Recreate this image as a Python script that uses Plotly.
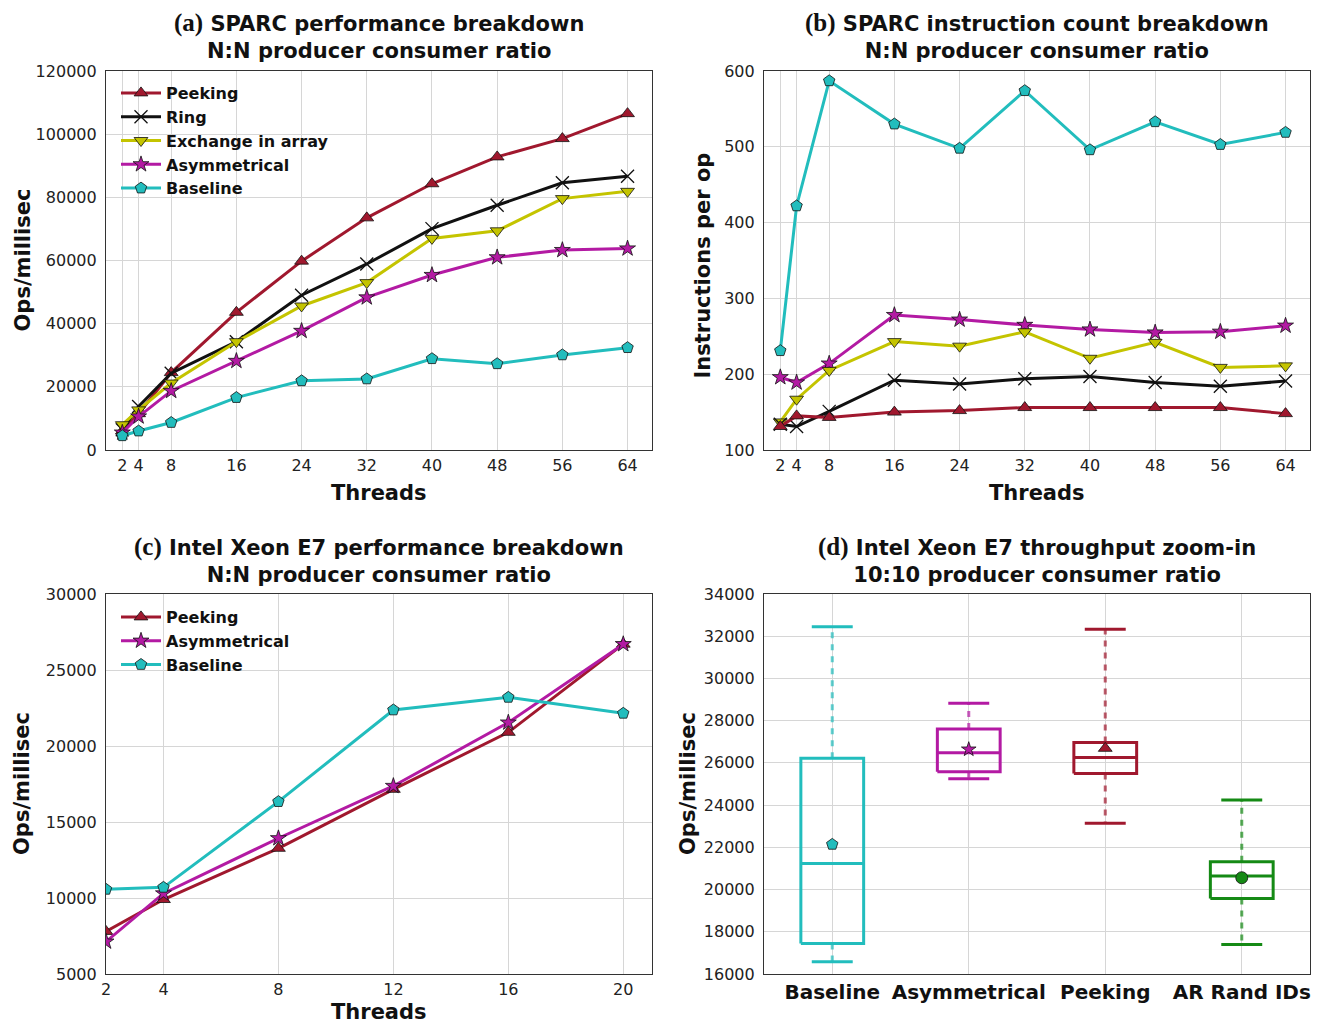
import plotly.graph_objects as go

# ---------------- data ----------------
threads_sparc = [2, 4, 8, 16, 24, 32, 40, 48, 56, 64]
perf_peeking = [6000, 11500, 24500, 43600, 59800, 73500, 84300, 92800, 98600, 106500]
perf_ring = [6400, 13800, 24300, 34300, 49000, 58900, 70100, 77500, 84600, 86700]
perf_exchange = [8000, 12700, 21200, 34300, 45600, 53000, 67000, 69400, 79600, 81900]
perf_asym = [5500, 10600, 18700, 28200, 37700, 48300, 55400, 61000, 63300, 63800]
perf_baseline = [4500, 6000, 8700, 16600, 21900, 22500, 28900, 27300, 30100, 32400]

inst_peeking = [131, 145, 143, 150, 152, 156, 156, 156, 156, 148]
inst_ring = [134, 131, 151, 192, 187, 194, 197, 189, 184, 191]
inst_exchange = [137, 167, 205, 243, 237, 256, 221, 242, 209, 211]
inst_asym = [196, 189, 214, 278, 272, 265, 259, 255, 256, 264]
inst_baseline = [231, 422, 587, 530, 498, 574, 496, 533, 503, 519]

threads_intel = [2, 4, 8, 12, 16, 20]
intel_peeking = [7800, 9900, 13270, 17150, 20900, 26700]
intel_asym = [7130, 10300, 13930, 17370, 21540, 26700]
intel_baseline = [10570, 10700, 16340, 22370, 23200, 22150]

box_names = ["Baseline", "Asymmetrical", "Peeking", "AR Rand IDs"]
box_low = [16580, 25250, 23140, 17400]
box_q1 = [17450, 25580, 25500, 19580]
box_median = [21240, 26480, 26260, 20640]
box_q3 = [26215, 27600, 26970, 21320]
box_high = [32450, 28820, 32330, 24240]
box_mean = [22140, 26640, 26690, 20560]

sparc_ticks = [2, 4, 8, 16, 24, 32, 40, 48, 56, 64]
intel_ticks = [2, 4, 8, 12, 16, 20]

# ---------------- styles ----------------
C_PEEK = "#A0182E"
C_RING = "#111111"
C_EXCH = "#C4C400"
C_ASYM = "#B31AA3"
C_BASE = "#22BDBD"
C_AR = "#158A15"

W, H = 1320, 1026
FONT = "DejaVu Sans"
GRID = "#d6d6d6"
AXC = "#333333"


def px_x(p):
    return p / W


def px_y(p):
    return 1 - p / H


fig = go.Figure()


def line_trace(x, y, name, color, symbol, xa, ya, legend=None, showlegend=True, size=12):
    if symbol == "x-thin":
        marker = dict(symbol=symbol, size=size + 1, line=dict(color=color, width=1.3), color=color)
    else:
        marker = dict(symbol=symbol, size=size, color=color, line=dict(color="#111111", width=0.8))
    return go.Scatter(
        x=x, y=y, name=name, mode="lines+markers",
        line=dict(color=color, width=3), marker=marker,
        xaxis=xa, yaxis=ya, showlegend=showlegend,
        legend=legend if legend else "legend",
    )


# (a)
for y, n, c, s in [
    (perf_peeking, "Peeking", C_PEEK, "triangle-up"),
    (perf_ring, "Ring", C_RING, "x-thin"),
    (perf_exchange, "Exchange in array", C_EXCH, "triangle-down"),
    (perf_asym, "Asymmetrical", C_ASYM, "star"),
    (perf_baseline, "Baseline", C_BASE, "pentagon"),
]:
    fig.add_trace(line_trace(threads_sparc, y, n, c, s, "x", "y", "legend", True))

# (b)
for y, n, c, s in [
    (inst_baseline, "Baseline", C_BASE, "pentagon"),
    (inst_asym, "Asymmetrical", C_ASYM, "star"),
    (inst_exchange, "Exchange in array", C_EXCH, "triangle-down"),
    (inst_ring, "Ring", C_RING, "x-thin"),
    (inst_peeking, "Peeking", C_PEEK, "triangle-up"),
]:
    fig.add_trace(line_trace(threads_sparc, y, n, c, s, "x2", "y2", None, False))

# (c)
for y, n, c, s in [
    (intel_peeking, "Peeking", C_PEEK, "triangle-up"),
    (intel_asym, "Asymmetrical", C_ASYM, "star"),
    (intel_baseline, "Baseline", C_BASE, "pentagon"),
]:
    fig.add_trace(line_trace(threads_intel, y, n, c, s, "x3", "y3", "legend2", True))

# (d) box plots drawn from precomputed statistics
box_colors = [C_BASE, C_ASYM, C_PEEK, C_AR]
box_symbols = ["pentagon", "star", "triangle-up", "circle"]
BW = 0.23   # half box width
CW = 0.15   # half cap width
for i, name in enumerate(box_names):
    c = box_colors[i]
    # whiskers (dashed)
    for y0, y1 in [(box_q3[i], box_high[i]), (box_q1[i], box_low[i])]:
        fig.add_trace(go.Scatter(
            x=[i, i], y=[y0, y1], mode="lines",
            line=dict(color=c, width=3, dash="6px,6px"), opacity=0.7,
            xaxis="x4", yaxis="y4", showlegend=False, hoverinfo="skip"))
    # box
    fig.add_trace(go.Scatter(
        x=[i - BW, i + BW, i + BW, i - BW, i - BW],
        y=[box_q1[i], box_q1[i], box_q3[i], box_q3[i], box_q1[i]],
        mode="lines", line=dict(color=c, width=3), xaxis="x4", yaxis="y4",
        showlegend=False, hoverinfo="skip"))
    # median
    fig.add_trace(go.Scatter(
        x=[i - BW, i + BW], y=[box_median[i], box_median[i]],
        mode="lines", line=dict(color=c, width=3), xaxis="x4", yaxis="y4",
        showlegend=False, hoverinfo="skip"))
    # caps
    for yv in [box_high[i], box_low[i]]:
        fig.add_trace(go.Scatter(
            x=[i - CW, i + CW], y=[yv, yv], mode="lines",
            line=dict(color=c, width=3), xaxis="x4", yaxis="y4",
            showlegend=False, hoverinfo="skip"))
    # mean marker
    fig.add_trace(go.Scatter(
        x=[i], y=[box_mean[i]], mode="markers",
        marker=dict(symbol=box_symbols[i], size=12 if i != 1 else 11, color=c,
                    line=dict(color="#111111", width=0.8)),
        xaxis="x4", yaxis="y4", showlegend=False, hoverinfo="skip"))

# ---------------- axes ----------------
XA = [106, 652]
XB = [764, 1310]
YT = [71, 450]
YB = [594, 974]


def axis_common(size=16, color="#222222", standoff=5):
    return dict(
        showgrid=True, gridcolor=GRID, gridwidth=1,
        showline=True, linecolor=AXC, linewidth=1.2, mirror=True,
        zeroline=False, ticks="", automargin=False, ticklabelstandoff=standoff,
        tickfont=dict(family=FONT, size=size, color=color),
    )


fig.update_layout(
    template="none",
    xaxis=dict(domain=[px_x(XA[0]), px_x(XA[1])], anchor="y", range=[0, 67],
               tickvals=sparc_ticks, **axis_common(standoff=1)),
    yaxis=dict(domain=[px_y(YT[1]), px_y(YT[0])], anchor="x", range=[0, 120000],
               tickvals=list(range(0, 120001, 20000)), tickformat="d", **axis_common()),
    xaxis2=dict(domain=[px_x(XB[0]), px_x(XB[1])], anchor="y2", range=[0, 67],
                tickvals=sparc_ticks, **axis_common(standoff=1)),
    yaxis2=dict(domain=[px_y(YT[1]), px_y(YT[0])], anchor="x2", range=[100, 600],
                tickvals=list(range(100, 601, 100)), **axis_common()),
    xaxis3=dict(domain=[px_x(XA[0]), px_x(XA[1])], anchor="y3", range=[2, 21],
                tickvals=intel_ticks, **axis_common(standoff=1)),
    yaxis3=dict(domain=[px_y(YB[1]), px_y(YB[0])], anchor="x3", range=[5000, 30000],
                tickvals=list(range(5000, 30001, 5000)), tickformat="d", **axis_common()),
    xaxis4=dict(domain=[px_x(XB[0]), px_x(XB[1])], anchor="y4", range=[-0.5, 3.5],
                tickvals=[0, 1, 2, 3], ticktext=["<b>%s</b>" % n for n in box_names],
                **axis_common(size=20, color="#111111", standoff=0)),
    yaxis4=dict(domain=[px_y(YB[1]), px_y(YB[0])], anchor="x4", range=[16000, 34000],
                tickvals=list(range(16000, 34001, 2000)), tickformat="d", **axis_common()),
)

fig.update_layout(
    width=W, height=H,
    margin=dict(l=0, r=0, t=0, b=0, autoexpand=False),
    paper_bgcolor="white", plot_bgcolor="white",
    font=dict(family=FONT, color="#111111"),
    legend=dict(x=px_x(116), y=px_y(76), xanchor="left", yanchor="top",
                bgcolor="rgba(255,255,255,0)", font=dict(family=FONT, size=16, color="#111111"),
                itemwidth=40, tracegroupgap=0),
    legend2=dict(x=px_x(116), y=px_y(600), xanchor="left", yanchor="top",
                 bgcolor="rgba(255,255,255,0)", font=dict(family=FONT, size=16, color="#111111"),
                 itemwidth=40, tracegroupgap=0),
)
# bold legend labels
for tr in fig.data:
    if tr.showlegend is not False and tr.name:
        tr.name = "<b>%s</b>" % tr.name

# ---------------- titles & labels ----------------
SERIF = "Liberation Serif"


def title_text(letter, line1, line2):
    return ('<b><span style="font-family:%s;font-size:25px">(%s)</span> %s<br>%s</b>'
            % (SERIF, letter, line1, line2))


titles = [
    ("a", "SPARC performance breakdown", "N:N producer consumer ratio", (XA[0] + XA[1]) / 2, 36),
    ("b", "SPARC instruction count breakdown", "N:N producer consumer ratio", (XB[0] + XB[1]) / 2, 36),
    ("c", "Intel Xeon E7 performance breakdown", "N:N producer consumer ratio", (XA[0] + XA[1]) / 2, 560),
    ("d", "Intel Xeon E7 throughput zoom-in", "10:10 producer consumer ratio", (XB[0] + XB[1]) / 2, 560),
]
for letter, l1, l2, cx, cy in titles:
    fig.add_annotation(text=title_text(letter, l1, l2), x=px_x(cx), y=px_y(cy),
                       xref="paper", yref="paper", showarrow=False, xanchor="center", yanchor="middle",
                       font=dict(family=FONT, size=21, color="#111111"))

labels = [
    ("Threads", (XA[0] + XA[1]) / 2, 493, 0),
    ("Threads", (XB[0] + XB[1]) / 2, 493, 0),
    ("Threads", (XA[0] + XA[1]) / 2, 1012, 0),
    ("Ops/millisec", 22, (YT[0] + YT[1]) / 2, -90),
    ("Instructions per op", 702, (YT[0] + YT[1]) / 2 + 5, -90),
    ("Ops/millisec", 22, (YB[0] + YB[1]) / 2, -90),
    ("Ops/millisec", 688, (YB[0] + YB[1]) / 2, -90),
]
for t, cx, cy, ang in labels:
    fig.add_annotation(text="<b>%s</b>" % t, x=px_x(cx), y=px_y(cy), xref="paper", yref="paper",
                       showarrow=False, xanchor="center", yanchor="middle", textangle=ang,
                       font=dict(family=FONT, size=21, color="#111111"))

fig.write_html("out.html")
